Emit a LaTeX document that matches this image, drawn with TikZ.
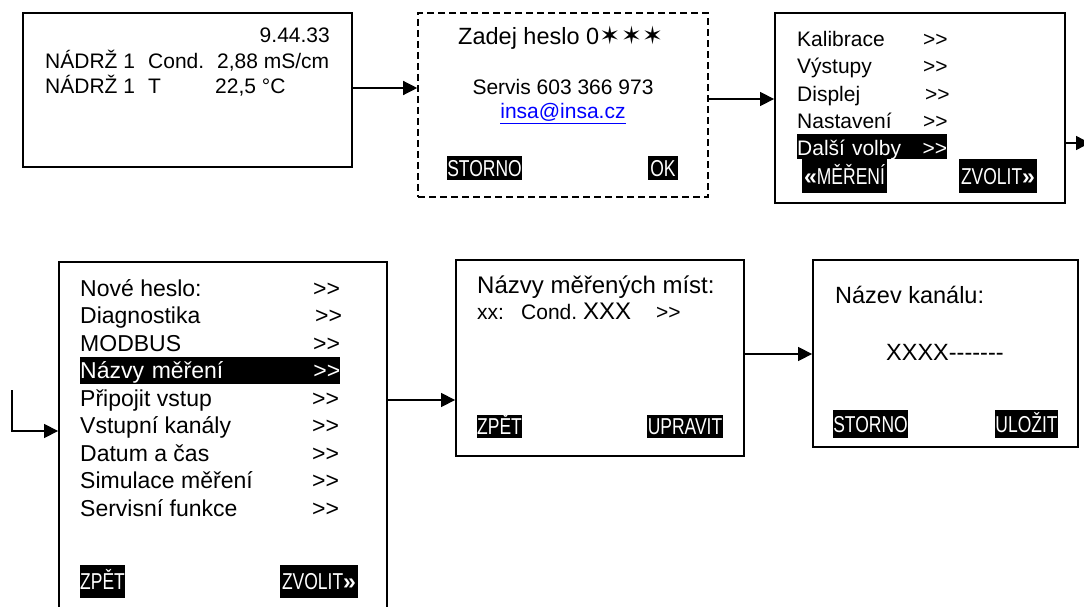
\documentclass[tikz,border=0pt]{standalone}
\usepackage{fontspec}
\setmainfont{Liberation Sans}
\newfontfamily\narrowfont[FakeStretch=0.76]{Liberation Sans}
\newfontfamily\symfont{DejaVu Sans}
\usetikzlibrary{arrows.meta}
% menu markers and placeholder dashes, kept apart from the TeX ligatures
\newcommand\more{>\kern0pt>}
\newcommand\blanks{-\kern0pt-\kern0pt-\kern0pt-\kern0pt-\kern0pt-\kern0pt-}
% heavy guillemets on the soft keys
\newcommand\keyback{{\normalfont\bfseries «}}
\newcommand\keyfwd{{\normalfont\bfseries »}}

\begin{document}
\begin{tikzpicture}[x=1pt,y=-1pt,
  screen/.style={draw, line width=1.8pt, inner sep=0pt},
  dscreen/.style={screen, line width=1.6pt, dash pattern=on 7pt off 4pt},
  conn/.style={line width=1.3pt, -{Triangle[length=14pt,width=14pt]}},
  lbl/.style={inner sep=0pt, anchor=base west, font=\fontsize{21}{25}\selectfont},
  lblL/.style={lbl, font=\fontsize{23}{27}\selectfont},
  btn/.style={fill=black, text=white, inner sep=0pt,
    font=\narrowfont\fontsize{23}{23}\selectfont, text height=16.5pt, text depth=0pt},
  hl/.style={fill=black, text=white, inner xsep=0pt, inner ysep=0pt, anchor=base west}]

\useasboundingbox (0,0) rectangle (1084,607);
\fill[white] (0,0) rectangle (1084,607);
\clip (0,0) rectangle (1084,607);

% ---- measuring display ----
\node[screen, minimum width=329pt, minimum height=154pt] (s1) at (187.5,90) {};
\node[lbl, anchor=base east] (clock) at (330,43) {9.44.33};
\node[lbl] (t1a) at (45,69) {NÁDRŽ 1};
\node[lbl] (t1b) at (148,69) {Cond.};
\node[lbl] (t1c) at (217,69) {2,88 mS/cm};
\node[lbl] (t2a) at (45,94) {NÁDRŽ 1};
\node[lbl] (t2b) at (148,94) {T};
\node[lbl] (t2c) at (215,94) {22,5 °C};

% ---- password prompt ----
\node[dscreen, minimum width=290pt, minimum height=184pt] (pw) at (563,105) {};
\node[lbl, font=\fontsize{23.5}{27}\selectfont] (prompt) at (458,45)
  {Zadej heslo 0{\symfont\fontsize{25}{25}\selectfont✶\hspace{1pt}✶\hspace{0pt}✶}};
\node[lbl, anchor=base] (svc) at (563,95) {Servis 603 366 973};
\node[lbl, anchor=base, text=blue] (mail) at (563,119) {\underline{insa@insa.cz}};
\node[btn, minimum width=75pt, minimum height=24pt] (pwcancel) at (484.5,168) {STORNO};
\node[btn, minimum width=30pt, minimum height=24pt] (pwok) at (663,168) {OK};

% ---- main menu ----
\node[screen, minimum width=290pt, minimum height=190pt] (m1) at (920,108) {};
\node[lbl] (k1) at (797,47) {Kalibrace};   \node[lbl] (k1g) at (923,47) {\more};
\node[lbl] (k2) at (797,74) {Výstupy};     \node[lbl] (k2g) at (923,74) {\more};
\node[lbl] (k3) at (797,102) {Displej};    \node[lbl] (k3g) at (925,102) {\more};
\node[lbl] (k4) at (797,129) {Nastavení};  \node[lbl] (k4g) at (923,129) {\more};
\node[hl, text width=150pt, text height=22pt, text depth=3pt,
  font=\fontsize{21}{25}\selectfont] (k5) at (797,156) {Další volby\hfill\more};
\node[btn, minimum width=85pt, minimum height=34pt] (m1back) at (844.5,176) {\keyback MĚŘENÍ};
\node[btn, minimum width=78pt, minimum height=34pt] (m1sel) at (998,176) {ZVOLIT\keyfwd};

% ---- further options ----
\node[screen, minimum width=328pt, minimum height=353pt] (m2) at (223,438.5) {};
\node[lblL] (o1) at (80,296) {Nové heslo:};        \node[lblL] (o1g) at (313,296) {\more};
\node[lblL] (o2) at (80,323.5) {Diagnostika};      \node[lblL] (o2g) at (315,323.5) {\more};
\node[lblL] (o3) at (80,351) {MODBUS};             \node[lblL] (o3g) at (313,351) {\more};
\node[hl, text width=260pt, text height=22pt, text depth=5.5pt,
  font=\fontsize{23}{27}\selectfont] (o4) at (80,378.5) {Názvy měření\hfill\more};
\node[lblL] (o5) at (80,406) {Připojit vstup};     \node[lblL] (o5g) at (312,406) {\more};
\node[lblL] (o6) at (80,433.5) {Vstupní kanály};   \node[lblL] (o6g) at (312,433.5) {\more};
\node[lblL] (o7) at (80,461) {Datum a čas};        \node[lblL] (o7g) at (312,461) {\more};
\node[lblL] (o8) at (80,488.5) {Simulace měření};  \node[lblL] (o8g) at (312,488.5) {\more};
\node[lblL] (o9) at (80,516) {Servisní funkce};    \node[lblL] (o9g) at (312,516) {\more};
\node[btn, minimum width=45pt, minimum height=33pt] (m2back) at (102.5,581.5) {ZPĚT};
\node[btn, minimum width=78pt, minimum height=33pt] (m2sel) at (319,581.5) {ZVOLIT\keyfwd};

% ---- measuring point names ----
\node[screen, minimum width=288pt, minimum height=196pt] (names) at (600,358) {};
\node[lbl, font=\fontsize{24}{28}\selectfont] (nt) at (477,293) {Názvy měřených míst:};
\node[lbl] (nxx) at (477,319) {xx:};
\node[lbl] (ncond) at (521,319) {Cond.};
\node[lbl, font=\fontsize{24}{28}\selectfont] (nx) at (583,319) {XXX};
\node[lbl] (ng) at (656,319) {\more};
\node[btn, minimum width=45pt, minimum height=23pt] (nback) at (499.5,426.5) {ZPĚT};
\node[btn, minimum width=76pt, minimum height=23pt] (nedit) at (685,426.5) {UPRAVIT};

% ---- channel name editor ----
\node[screen, minimum width=265pt, minimum height=187pt] (chan) at (945.5,353.5) {};
\node[lbl, font=\fontsize{23.5}{28}\selectfont] (ct) at (835,303) {Název kanálu:};
\node[lbl, font=\fontsize{23.5}{28}\selectfont] (cv) at (886,360) {XXXX\blanks};
\node[btn, minimum width=75pt, minimum height=28pt] (ccancel) at (870.5,424) {STORNO};
\node[btn, minimum width=63pt, minimum height=28pt] (csave) at (1026.5,424) {ULOŽIT};

% ---- connectors ----
\coordinate (next) at (1090,143);
\coordinate (m2in) at (12,390);
\draw[conn] ([yshift=2pt]s1.east) coordinate (a1) -- (a1 -| pw.west);
\draw[conn] ([yshift=6pt]pw.east) coordinate (a2) -- (a2 -| m1.west);
\draw[conn] ([yshift=-35pt]m1.east) -- (next);
\draw[conn] (m2in) |- ([yshift=7.5pt]m2.west);
\draw[conn] ([yshift=38.5pt]m2.east) coordinate (a5) -- (a5 -| names.west);
\draw[conn] ([yshift=4pt]names.east) coordinate (a6) -- (a6 -| chan.west);
\end{tikzpicture}
\end{document}
